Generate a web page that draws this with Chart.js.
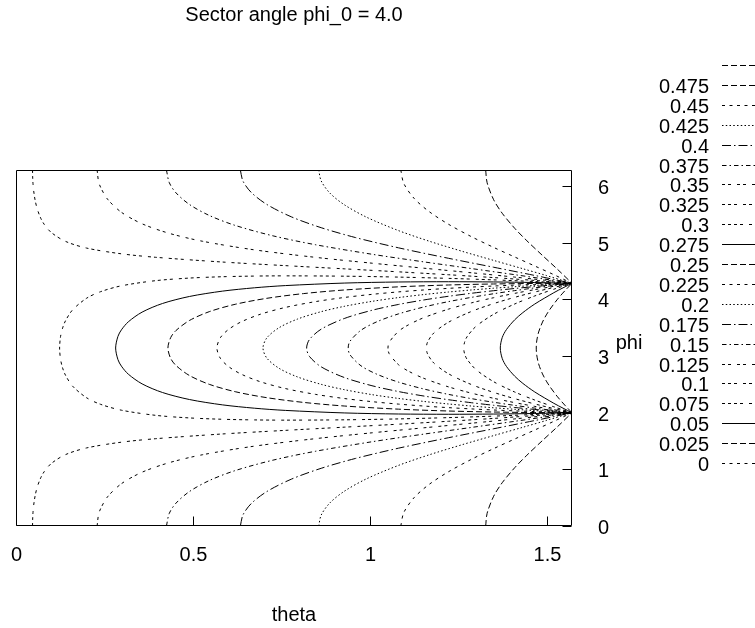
<!DOCTYPE html>
<html>
<head>
<meta charset="utf-8">
<script src="https://cdn.jsdelivr.net/npm/chart.js@4"></script>
<style>
  html, body { margin: 0; padding: 0; background: #fff; }
  #wrap { width: 755px; height: 628px; }
</style>
</head>
<body>
<div id="wrap"><canvas id="c" width="755" height="628"></canvas></div>
<script>
// Axis ranges and ticks
const thetaMax = 1.5708;
const phiMax = 6.2832;
const thetaTicks = [0, 0.5, 1, 1.5];
const phiTicks = [0, 1, 2, 3, 4, 5, 6];

// Contour lines, [theta, phi] pairs.
// Levels below the pole value form closed bows between the two edge points.
const c000 = [[1.5708,2.0],[1.5708,4.2832]];
const c025 = [[1.5708,2.0],[1.5506,2.132],[1.53,2.2796],[1.509,2.4537],[1.4983,2.5575],[1.4875,2.6834],[1.4766,2.8586],[1.4712,3.017],[1.4698,3.1416],[1.4712,3.2662],[1.4766,3.4246],[1.4875,3.5998],[1.4983,3.7257],[1.509,3.8295],[1.53,4.0036],[1.5506,4.1512],[1.5708,4.2832]];
const c050 = [[1.5708,2.0],[1.5455,2.0796],[1.5195,2.1655],[1.4656,2.3658],[1.432,2.5169],[1.409,2.6435],[1.3855,2.8172],[1.3736,2.959],[1.3682,3.1416],[1.3736,3.3242],[1.3855,3.466],[1.409,3.6397],[1.432,3.7663],[1.4656,3.9174],[1.5195,4.1177],[1.5455,4.2036],[1.5708,4.2832]];
const c075 = [[1.5708,2.0],[1.5195,2.104],[1.4656,2.2229],[1.409,2.3645],[1.3495,2.5465],[1.2997,2.7595],[1.2741,2.9447],[1.267,3.0477],[1.2649,3.1416],[1.267,3.2355],[1.2741,3.3385],[1.2997,3.5237],[1.3495,3.7367],[1.409,3.9187],[1.4656,4.0603],[1.5195,4.1792],[1.5708,4.2832]];
const c100 = [[1.5708,2.0],[1.5195,2.0725],[1.4656,2.1538],[1.409,2.2472],[1.3495,2.3577],[1.287,2.4956],[1.2215,2.6879],[1.1806,2.8751],[1.1626,3.0391],[1.1595,3.1416],[1.1626,3.2441],[1.1806,3.4081],[1.2215,3.5953],[1.287,3.7876],[1.3495,3.9255],[1.409,4.036],[1.4656,4.1294],[1.5195,4.2107],[1.5708,4.2832]];
const c125 = [[1.5708,2.0],[1.5195,2.0526],[1.4656,2.1111],[1.409,2.1774],[1.3495,2.2539],[1.287,2.3444],[1.2215,2.4562],[1.1528,2.6047],[1.11,2.7289],[1.0808,2.846],[1.0541,3.0437],[1.0509,3.1416],[1.0541,3.2395],[1.0808,3.4372],[1.11,3.5543],[1.1528,3.6785],[1.2215,3.827],[1.287,3.9388],[1.3495,4.0293],[1.409,4.1058],[1.4656,4.1721],[1.5195,4.2306],[1.5708,4.2832]];
const c150 = [[1.5708,2.0],[1.5195,2.0382],[1.4656,2.0808],[1.409,2.1288],[1.3495,2.1836],[1.287,2.2475],[1.2215,2.3234],[1.1528,2.4171],[1.0808,2.5392],[1.021,2.6748],[0.9747,2.8274],[0.9432,3.0261],[0.9385,3.1416],[0.9432,3.2571],[0.9747,3.4558],[1.021,3.6084],[1.0808,3.744],[1.1528,3.8661],[1.2215,3.9598],[1.287,4.0357],[1.3495,4.0996],[1.409,4.1544],[1.4656,4.2024],[1.5195,4.245],[1.5708,4.2832]];
const c175 = [[1.5708,2.0],[1.5195,2.0269],[1.4656,2.0571],[1.409,2.0913],[1.3495,2.1303],[1.287,2.1756],[1.2215,2.229],[1.1528,2.2931],[1.0808,2.3727],[1.0057,2.4758],[0.9273,2.6213],[0.8623,2.8087],[0.829,2.9931],[0.8211,3.1416],[0.829,3.2901],[0.8623,3.4745],[0.9273,3.6619],[1.0057,3.8074],[1.0808,3.9105],[1.1528,3.9901],[1.2215,4.0542],[1.287,4.1076],[1.3495,4.1529],[1.409,4.1919],[1.4656,4.2261],[1.5195,4.2563],[1.5708,4.2832]];
const c200 = [[1.5708,2.0],[1.5195,2.0174],[1.4656,2.0372],[1.409,2.06],[1.3495,2.0863],[1.287,2.1172],[1.2215,2.1538],[1.1528,2.1978],[1.0808,2.2514],[1.0057,2.3185],[0.9273,2.4065],[0.8623,2.5001],[0.7953,2.631],[0.7437,2.7815],[0.7088,2.9621],[0.6978,3.1416],[0.7088,3.3211],[0.7437,3.5017],[0.7953,3.6522],[0.8623,3.7831],[0.9273,3.8767],[1.0057,3.9647],[1.0808,4.0318],[1.1528,4.0854],[1.2215,4.1294],[1.287,4.166],[1.3495,4.1969],[1.409,4.2232],[1.4656,4.246],[1.5195,4.2658],[1.5708,4.2832]];
const c225 = [[1.5708,2.0],[1.5195,2.0089],[1.4656,2.0194],[1.409,2.0322],[1.3495,2.0476],[1.287,2.0664],[1.2215,2.089],[1.1528,2.1169],[1.0808,2.1513],[1.0057,2.1947],[0.9273,2.2501],[0.8457,2.3235],[0.761,2.4258],[0.6911,2.5445],[0.6375,2.6762],[0.6012,2.8105],[0.5774,2.9593],[0.5676,3.1416],[0.5774,3.3239],[0.6012,3.4727],[0.6375,3.607],[0.6911,3.7387],[0.761,3.8574],[0.8457,3.9597],[0.9273,4.0331],[1.0057,4.0885],[1.0808,4.1319],[1.1528,4.1663],[1.2215,4.1942],[1.287,4.2168],[1.3495,4.2356],[1.409,4.251],[1.4656,4.2638],[1.5195,4.2743],[1.5708,4.2832]];
const c250 = [[1.5708,2.0],[1.4656,2.0027],[1.3495,2.0116],[1.2215,2.0296],[1.0808,2.062],[0.9273,2.1179],[0.8122,2.1814],[0.7088,2.2645],[0.6194,2.37],[0.546,2.5004],[0.49,2.6559],[0.4521,2.8322],[0.4369,2.9595],[0.4292,3.1416],[0.4369,3.3237],[0.4521,3.451],[0.49,3.6273],[0.546,3.7828],[0.6194,3.9132],[0.7088,4.0187],[0.8122,4.1018],[0.9273,4.1653],[1.0808,4.2212],[1.2215,4.2536],[1.3495,4.2716],[1.4656,4.2805],[1.5708,4.2832]];
const c275 = [[1.5708,2.0],[1.4656,1.9859],[1.3495,1.9759],[1.2215,1.9719],[1.0808,1.9767],[0.9273,1.9956],[0.761,2.04],[0.6734,2.0792],[0.5829,2.1383],[0.49,2.2323],[0.414,2.3557],[0.3562,2.5087],[0.3173,2.6797],[0.2978,2.8212],[0.288,2.9362],[0.2815,3.1416],[0.288,3.347],[0.2978,3.462],[0.3173,3.6035],[0.3562,3.7745],[0.414,3.9275],[0.49,4.0509],[0.5829,4.1449],[0.6734,4.204],[0.761,4.2432],[0.9273,4.2876],[1.0808,4.3065],[1.2215,4.3113],[1.3495,4.3073],[1.4656,4.2973],[1.5708,4.2832]];
const c300 = [[1.5708,2.0],[1.4656,1.9685],[1.3495,1.9391],[1.2215,1.9127],[1.0808,1.8902],[0.9273,1.874],[0.761,1.8683],[0.6734,1.8723],[0.5829,1.8838],[0.49,1.9074],[0.3948,1.9529],[0.2978,2.0439],[0.2389,2.1478],[0.1993,2.264],[0.1597,2.4697],[0.1398,2.6615],[0.1318,2.7869],[0.1258,2.9424],[0.1232,3.1416],[0.1258,3.3408],[0.1318,3.4963],[0.1398,3.6217],[0.1597,3.8135],[0.1993,4.0192],[0.2389,4.1354],[0.2978,4.2393],[0.3948,4.3303],[0.49,4.3758],[0.5829,4.3994],[0.6734,4.4109],[0.761,4.4149],[0.9273,4.4092],[1.0808,4.393],[1.2215,4.3705],[1.3495,4.3441],[1.4656,4.3147],[1.5708,4.2832]];

// Levels above the pole value: one branch from phi = 0, one from phi = 2*pi.
const c325lo = [[0.0467,0],[0.0472,0.15],[0.048,0.2374],[0.05,0.3702],[0.054,0.5327],[0.06,0.6875],[0.07,0.8523],[0.08,0.962],[0.0999,1.1045],[0.1398,1.2597],[0.1993,1.3778],[0.2978,1.4794],[0.3948,1.5408],[0.5829,1.6242],[0.761,1.688],[0.9273,1.7444],[1.0808,1.7973],[1.2215,1.8485],[1.3495,1.899],[1.4656,1.9493],[1.5708,2.0]];
const c325hi = [[0.0467,6.2832],[0.0472,6.1332],[0.048,6.0458],[0.05,5.913],[0.054,5.7505],[0.06,5.5957],[0.07,5.4309],[0.08,5.3212],[0.0999,5.1787],[0.1398,5.0235],[0.1993,4.9054],[0.2978,4.8038],[0.3948,4.7424],[0.5829,4.659],[0.761,4.5952],[0.9273,4.5388],[1.0808,4.4859],[1.2215,4.4347],[1.3495,4.3842],[1.4656,4.3339],[1.5708,4.2832]];
const c350lo = [[0.2292,0],[0.2329,0.1907],[0.2389,0.3041],[0.2586,0.5148],[0.2978,0.7464],[0.3562,0.9494],[0.4331,1.1183],[0.5274,1.2583],[0.6734,1.4093],[0.8457,1.5414],[1.0057,1.6447],[1.1528,1.7334],[1.287,1.814],[1.409,1.89],[1.4929,1.9454],[1.5708,2.0]];
const c350hi = [[0.2292,6.2832],[0.2329,6.0925],[0.2389,5.9791],[0.2586,5.7684],[0.2978,5.5368],[0.3562,5.3338],[0.4331,5.1649],[0.5274,5.0249],[0.6734,4.8739],[0.8457,4.7418],[1.0057,4.6385],[1.1528,4.5498],[1.287,4.4692],[1.409,4.3932],[1.4929,4.3378],[1.5708,4.2832]];
const c375lo = [[0.425,0],[0.4331,0.2241],[0.4521,0.4036],[0.49,0.6083],[0.546,0.8023],[0.6194,0.9783],[0.7263,1.1625],[0.8457,1.3184],[1.0057,1.4869],[1.1528,1.6222],[1.287,1.7399],[1.409,1.8476],[1.4929,1.9246],[1.5708,2.0]];
const c375hi = [[0.425,6.2832],[0.4331,6.0591],[0.4521,5.8796],[0.49,5.6749],[0.546,5.4809],[0.6194,5.3049],[0.7263,5.1207],[0.8457,4.9648],[1.0057,4.7963],[1.1528,4.661],[1.287,4.5433],[1.409,4.4356],[1.4929,4.3586],[1.5708,4.2832]];
const c400lo = [[0.6339,0],[0.6411,0.1937],[0.6644,0.3949],[0.7088,0.6087],[0.7782,0.8274],[0.8623,1.0187],[0.959,1.1922],[1.0808,1.3737],[1.2215,1.5578],[1.3495,1.7163],[1.4656,1.8612],[1.5195,1.931],[1.5708,2.0]];
const c400hi = [[0.6339,6.2832],[0.6411,6.0895],[0.6644,5.8883],[0.7088,5.6745],[0.7782,5.4558],[0.8623,5.2645],[0.959,5.091],[1.0808,4.9095],[1.2215,4.7254],[1.3495,4.5669],[1.4656,4.422],[1.5195,4.3522],[1.5708,4.2832]];
const c425lo = [[0.8552,0],[0.8623,0.1939],[0.8869,0.4083],[0.9273,0.6124],[0.9903,0.8328],[1.0808,1.07],[1.1667,1.2551],[1.2612,1.4364],[1.3495,1.5958],[1.432,1.7425],[1.4983,1.8625],[1.5708,2.0]];
const c425hi = [[0.8552,6.2832],[0.8623,6.0893],[0.8869,5.8749],[0.9273,5.6708],[0.9903,5.4504],[1.0808,5.2132],[1.1667,5.0281],[1.2612,4.8468],[1.3495,4.6874],[1.432,4.5407],[1.4983,4.4207],[1.5708,4.2832]];
const c450lo = [[1.0871,0],[1.0955,0.2359],[1.1244,0.4988],[1.1667,0.7318],[1.2215,0.9563],[1.287,1.178],[1.3495,1.3663],[1.409,1.5356],[1.4656,1.6942],[1.5195,1.8474],[1.5708,2.0]];
const c450hi = [[1.0871,6.2832],[1.0955,6.0473],[1.1244,5.7844],[1.1667,5.5514],[1.2215,5.3269],[1.287,5.1052],[1.3495,4.9169],[1.409,4.7476],[1.4656,4.589],[1.5195,4.4358],[1.5708,4.2832]];
const c475lo = [[1.3269,0],[1.331,0.2242],[1.3495,0.5253],[1.3736,0.7634],[1.409,1.0292],[1.4433,1.2489],[1.4875,1.5091],[1.53,1.7539],[1.5708,2.0]];
const c475hi = [[1.3269,6.2832],[1.331,6.059],[1.3495,5.7579],[1.3736,5.5198],[1.409,5.254],[1.4433,5.0343],[1.4875,4.7741],[1.53,4.5293],[1.5708,4.2832]];

// Level labels in key order (top row has no label)
const keyLabels = ['', '0.475', '0.45', '0.425', '0.4', '0.375', '0.35', '0.325', '0.3', '0.275', '0.25',
                   '0.225', '0.2', '0.175', '0.15', '0.125', '0.1', '0.075', '0.05', '0.025', '0'];
// Line type per key row
const keyTypes = [1, 1, 2, 3, 4, 5, 6, 7, 8, 0, 1, 2, 3, 4, 5, 6, 7, 8, 0, 1, 2];

// Dash patterns of the line types (px)
const U = 1.5;
const dashes = [
  [],
  [4 * U, 2 * U],
  [2 * U, 3 * U],
  [1 * U, 1.5 * U],
  [6 * U, 2 * U, 1 * U, 2 * U],
  [3 * U, 2 * U, 1 * U, 2 * U],
  [2 * U, 2 * U, 2 * U, 4 * U],
  [2 * U, 2 * U, 2 * U, 2 * U, 2 * U, 4 * U],
  [2 * U, 2 * U, 2 * U, 2 * U, 2 * U, 2 * U, 2 * U, 4 * U]
];

// Which curve pieces belong to each labelled level
const levelParts = {
  '0': [c000], '0.025': [c025], '0.05': [c050], '0.075': [c075], '0.1': [c100],
  '0.125': [c125], '0.15': [c150], '0.175': [c175], '0.2': [c200], '0.225': [c225],
  '0.25': [c250], '0.275': [c275], '0.3': [c300],
  '0.325': [c325lo, c325hi], '0.35': [c350lo, c350hi], '0.375': [c375lo, c375hi],
  '0.4': [c400lo, c400hi], '0.425': [c425lo, c425hi], '0.45': [c450lo, c450hi],
  '0.475': [c475lo, c475hi]
};

const datasets = [];
keyLabels.forEach((lab, i) => {
  const parts = levelParts[lab];
  if (!parts) return;
  parts.forEach(p => {
    datasets.push({
      label: lab,
      data: p.map(([t, f]) => ({ x: t, y: f })),
      showLine: true,
      borderColor: '#000',
      borderWidth: 1,
      borderDash: dashes[keyTypes[i]],
      pointRadius: 0,
      pointHoverRadius: 0,
      tension: 0.3,
      fill: false
    });
  });
});

const FONT = '20px "Liberation Sans", Arial, Helvetica, sans-serif';

// Frame, ticks, labels and the key, drawn gnuplot style
const decorations = {
  id: 'decorations',
  afterDraw(chart) {
    const { ctx, chartArea: a, scales } = chart;
    const xs = scales.x, ys = scales.y;
    ctx.save();
    ctx.strokeStyle = '#000';
    ctx.fillStyle = '#000';
    ctx.lineWidth = 1;
    ctx.setLineDash([]);

    const L = Math.round(a.left) + 0.5, R = Math.round(a.right) - 0.5;
    const T = Math.round(a.top) + 0.5, B = Math.round(a.bottom) - 0.5;
    ctx.beginPath();
    ctx.rect(L, T, R - L, B - T);
    ctx.stroke();

    ctx.font = FONT;
    // theta ticks along the bottom edge
    ctx.textAlign = 'center';
    ctx.textBaseline = 'alphabetic';
    thetaTicks.forEach(v => {
      const px = Math.round(xs.getPixelForValue(v)) + 0.5;
      ctx.beginPath();
      ctx.moveTo(px, B);
      ctx.lineTo(px, B - 9);
      ctx.stroke();
      ctx.fillText(String(v), px, 561);
    });
    // phi ticks on the right edge
    ctx.textAlign = 'left';
    phiTicks.forEach(v => {
      const py = Math.round(ys.getPixelForValue(v)) + 0.5;
      ctx.beginPath();
      ctx.moveTo(R, py);
      ctx.lineTo(R - 9, py);
      ctx.stroke();
      ctx.fillText(String(v), 598, py + 7);
    });

    // titles
    ctx.textAlign = 'center';
    ctx.fillText('Sector angle phi_0 = 4.0', (a.left + a.right) / 2, 21);
    ctx.fillText('theta', (a.left + a.right) / 2, 621);
    ctx.fillText('phi', 629, 349);

    // key
    const rowY0 = 65, rowStep = 19.9;
    keyLabels.forEach((lab, i) => {
      const y = Math.round(rowY0 + i * rowStep) + 0.5;
      if (lab) {
        ctx.textAlign = 'right';
        ctx.fillText(lab, 709, y + 7.5);
      }
      ctx.setLineDash(dashes[keyTypes[i]]);
      ctx.beginPath();
      ctx.moveTo(722, y);
      ctx.lineTo(770, y);
      ctx.stroke();
      ctx.setLineDash([]);
    });
    ctx.restore();
  }
};

new Chart(document.getElementById('c'), {
  type: 'scatter',
  data: { datasets },
  options: {
    responsive: false,
    animation: false,
    devicePixelRatio: 1,
    layout: { padding: { left: 16, right: 183, top: 170, bottom: 102 } },
    scales: {
      x: { type: 'linear', min: 0, max: thetaMax, display: false },
      y: { type: 'linear', min: 0, max: phiMax, display: false }
    },
    plugins: {
      legend: { display: false },
      tooltip: { enabled: false },
      title: { display: false }
    },
    events: []
  },
  plugins: [decorations]
});
</script>
</body>
</html>
